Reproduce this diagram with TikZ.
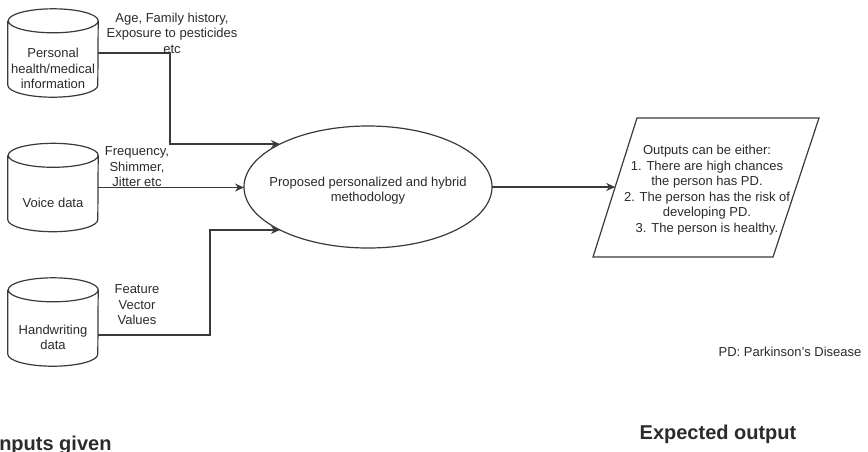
\documentclass[tikz,border=0pt]{standalone}
\usepackage{fontspec}
\setmainfont{Liberation Sans}
\usetikzlibrary{shapes.geometric,arrows.meta}
\definecolor{ink}{HTML}{2B2B2B}
\definecolor{edge}{HTML}{3A3A3A}
\newcommand\drawcyl[1]{%
  \draw[shapeline] ([yshift=-12pt]#1.north west) -- ([yshift=12pt]#1.south west)
    arc[start angle=180,end angle=360,x radius=45pt,y radius=12pt]
    -- ([yshift=-12pt]#1.north east)
    arc[start angle=0,end angle=180,x radius=45pt,y radius=12pt]
    arc[start angle=180,end angle=360,x radius=45pt,y radius=12pt];}
\tikzset{
  txt/.style={font=\fontsize{13}{15.5}\selectfont, text=ink, align=center, inner sep=0pt},
  bigtxt/.style={font=\fontsize{20}{24}\selectfont\bfseries, text=ink, inner sep=0pt},
  shapeline/.style={draw=edge, line width=1.2pt, fill=white},
  cylbox/.style={minimum width=90pt, minimum height=88pt, inner sep=0pt, draw=none},
  conn/.style={draw=edge, line width=1.2pt},
  arr/.style={conn, -{Stealth[length=9pt,width=8pt,inset=3pt]}},
}
\begin{document}
\begin{tikzpicture}[x=1pt,y=-1pt]
\useasboundingbox (0,0) rectangle (868,451);
% cylinders
\node[cylbox] (c1) at (53,53) {};
\node[cylbox] (c2) at (53,187.5) {};
\node[cylbox] (c3) at (53,322) {};
\drawcyl{c1}
\drawcyl{c2}
\drawcyl{c3}
\node[txt] (t1) at ([yshift=-15.5pt]c1.center) {Personal\\health/medical\\information};
\node[txt] (t2) at ([yshift=-15.5pt]c2.center) {Voice data};
\node[txt] (t3) at ([yshift=-15.5pt]c3.center) {Handwriting\\data};
% central ellipse
\node[ellipse, shapeline, minimum width=248pt, minimum height=122pt, inner sep=0pt, outer sep=0pt] (e) at (368,187) {};
\node[txt] (et) at (368,190.5) {Proposed personalized and hybrid\\methodology};
% output parallelogram
\coordinate (p1) at (637,118);
\coordinate (p2) at (819,118);
\coordinate (p3) at (773,257);
\coordinate (p4) at (593,257);
\draw[shapeline] (p1) -- (p2) -- (p3) -- (p4) -- cycle;
\node[txt] (out) at (707,190) {Outputs can be either:\\1. There are high chances\\the person has PD.\\2. The person has the risk of\\developing PD.\\3. The person is healthy.};
\coordinate (pin) at (615.2,187);
% connectors
\coordinate (k1) at (170,144);
\coordinate (k3) at (210,335);
\draw[arr] (c1.east) -| (k1) |- (e.154);
\draw[arr] (c2.east) -- (c2.east -| e.west);
\draw[arr] (c3.east |- k3) -- (k3) |- (e.206);
\draw[arr] (e.east) -- (pin);
% labels
\node[txt] (l1) at (172,33) {Age, Family history,\\Exposure to pesticides\\etc};
\node[txt] (l2) at (137,167) {Frequency,\\Shimmer,\\Jitter etc};
\node[txt] (l3) at (137,305) {Feature\\Vector\\Values};
\node[txt] (pd) at (790,352) {PD: Parkinson's Disease};
\node[bigtxt, anchor=base] (eo) at (718,439) {Expected output};
\node[bigtxt, anchor=base west] (ig) at (-6.5,450) {Inputs given};
\end{tikzpicture}
\end{document}
